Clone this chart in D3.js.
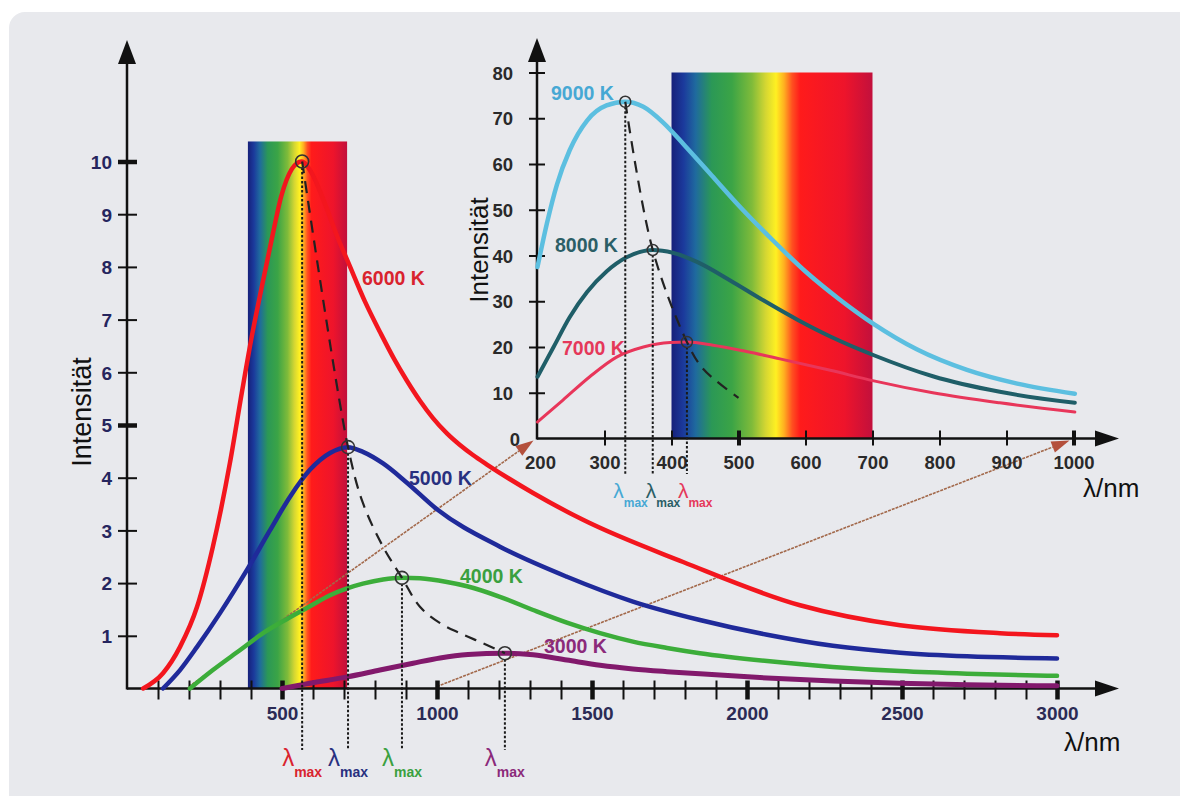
<!DOCTYPE html>
<html>
<head>
<meta charset="utf-8">
<script src="https://cdn.jsdelivr.net/npm/d3@7"></script>
<style>
  html, body { margin: 0; padding: 0; background: #fff; }
  svg { display: block; font-family: "Liberation Sans", Arial, sans-serif; }
</style>
</head>
<body>
<svg id="chart" width="1180" height="796"></svg>
<script>
// ---- main chart data: [wavelength nm, relative intensity] ----
const curve6000 = [[52,0],[116,0.29],[171,0.79],[226,1.55],[277,2.69],[332,4.28],[370,5.6],[400,6.6],[434,7.6],[466,8.5],[498,9.35],[531,9.85],[563,10],[595,9.79],[637,9.22],[682,8.52],[714,8.08],[767,7.35],[820,6.72],[862,6.25],[903,5.84],[945,5.46],[987,5.13],[1032,4.84],[1074,4.62],[1116,4.43],[1161,4.25],[1310,3.71],[1471,3.2],[1794,2.4],[2171,1.58],[2494,1.2],[2816,1.05],[3000,1.01]];
const curve5000 = [[116,0],[171,0.35],[226,0.79],[300,1.43],[387,2.25],[461,3.0],[526,3.64],[590,4.15],[655,4.47],[713,4.58],[761,4.49],[826,4.27],[900,3.92],[1000,3.4],[1203,2.69],[1419,2.12],[1632,1.65],[1848,1.3],[2065,1.02],[2277,0.81],[2494,0.68],[2710,0.61],[3000,0.57]];
const curve4000 = [[203,0],[277,0.35],[365,0.73],[439,1.05],[516,1.32],[590,1.56],[655,1.77],[710,1.9],[761,1.99],[826,2.07],[887,2.1],[945,2.09],[1032,2.02],[1097,1.94],[1203,1.74],[1310,1.49],[1419,1.25],[1526,1.05],[1632,0.89],[1742,0.77],[1848,0.67],[2065,0.52],[2277,0.41],[2494,0.33],[2710,0.28],[3000,0.24]];
const curve3000 = [[500,0],[590,0.1],[710,0.22],[816,0.35],[923,0.48],[1010,0.58],[1100,0.645],[1219,0.67],[1310,0.64],[1419,0.54],[1526,0.44],[1632,0.37],[1742,0.32],[1848,0.28],[2065,0.2],[2277,0.14],[2494,0.1],[2710,0.07],[3000,0.05]];
const mainPeakNm  = [565, 713, 887, 1219];
const mainPeakVal = [10, 4.58, 2.1, 0.67];
const wienMain = [[565,10],[713,4.58],[761,3.52],[826,2.69],[887,2.1],[945,1.55],[1010,1.24],[1074,1.05],[1148,0.86],[1219,0.67]];
const mainNames = ['6000 K', '5000 K', '4000 K', '3000 K'];
const mainTicksY = [1,2,3,4,5,6,7,8,9,10];
const mainTicksX = [100,200,300,400,500,600,700,800,900,1000,1100,1200,1300,1400,1500,1600,1700,1800,1900,2000,2100,2200,2300,2400,2500,2600,2700,2800,2900,3000];
const mainLabelsX = [500,1000,1500,2000,2500,3000];
const mainSpectrum = [390, 710];

// ---- inset data ----
const curve9000 = [[200,37.5],[214,47],[229,55.5],[248,63],[274,69.5],[303,72.8],[331,73.6],[358,72.5],[388,69],[420,64],[460,57.5],[500,51],[550,43.5],[600,36.5],[650,30.5],[702,25],[766,19.5],[841,15],[916,12],[1002,9.8]];
const curve8000 = [[200,13.5],[224,20],[248,26.5],[274,32],[303,36.5],[333,39.6],[372,41.2],[402,40.6],[438,38.6],[487,34.6],[537,30.2],[590,25.8],[637,22.3],[702,18.2],[790,13.6],[890,10.2],[1002,7.8]];
const curve7000 = [[200,3.6],[238,8.4],[278,13.5],[318,17.8],[358,20],[398,21],[423,21.1],[462,20.4],[512,19],[562,17.4],[637,14.9],[702,12.6],[790,10],[890,7.8],[1002,5.8]];
const insetPeakNm  = [331, 372, 423];
const insetPeakVal = [73.6, 41.2, 21.1];
const wienInset = [[331,73.6],[372,41.2],[423,21.1],[445,15.6],[470,12.2],[500,8.9]];
const insetNames = ['9000 K', '8000 K', '7000 K'];
const insetTicksY = [10,20,30,40,50,60,70,80];
const insetTicksX = [300,400,500,600,700,800,900,1000];
const insetSpectrum = [400, 700];
const arrowLinks = [200, 1000];

// ---- styles ----
const mainColors  = ['#f3161e', '#1f2a9a', '#3cad3a', '#82196c'];
const mainWidths  = [4.5, 4.5, 4.5, 5];
const mainLabelColors = ['#d9232e', '#28307f', '#3aa040', '#8b2a7a'];
const insetColors = ['#5cbfe0', '#1f5e68', '#e8365a'];
const insetWidths = [4.5, 4, 3];
const insetLabelColors = ['#46a8d4', '#2b5e66', '#e5385a'];
const insetLambdaShift = [-12, -7, -9];
const mainLabelPos  = [[362,285],[409,485],[460,583],[544,653]];
const insetLabelPos = [[551,100],[555,252],[562,355]];
const FONT = '"Liberation Sans", Arial, sans-serif';

const svg = d3.select('#chart');

// background panel
svg.append('rect').attr('x', 9).attr('y', 12).attr('width', 1200).attr('height', 820)
  .attr('rx', 16).attr('fill', '#e8e9ed');

const mx = d3.scaleLinear().domain([0, 3000]).range([127, 1057]);
const my = d3.scaleLinear().domain([0, 10]).range([688.5, 161.5]);
const ix = d3.scaleLinear().domain([200, 1000]).range([537.5, 1073.5]);
const iy = d3.scaleLinear().domain([0, 80]).range([438.5, 72.5]);

// spectrum gradient
const defs = svg.append('defs');
const grad = defs.append('linearGradient').attr('id', 'spec');
[[0,'#16207a'],[0.06,'#1b3a9c'],[0.12,'#1f6a9e'],[0.2,'#2b9856'],[0.3,'#3ba446'],
 [0.4,'#7fbb3a'],[0.47,'#d6d732'],[0.52,'#fff022'],[0.56,'#ffb020'],[0.6,'#ff5020'],
 [0.64,'#ff1b1b'],[0.86,'#ee142b'],[1,'#c2103c']].forEach(s => {
  grad.append('stop').attr('offset', s[0]).attr('stop-color', s[1]);
});

svg.append('rect')
  .attr('x', mx(mainSpectrum[0])).attr('y', my(10.38))
  .attr('width', mx(mainSpectrum[1]) - mx(mainSpectrum[0]))
  .attr('height', my(0) - my(10.38))
  .attr('fill', 'url(#spec)');
svg.append('rect')
  .attr('x', ix(insetSpectrum[0])).attr('y', iy(80))
  .attr('width', ix(insetSpectrum[1]) - ix(insetSpectrum[0]))
  .attr('height', iy(0) - iy(80))
  .attr('fill', 'url(#spec)');

// brown connector arrows (main wavelength -> same wavelength in inset)
arrowLinks.forEach(nm => {
  const x1 = mx(nm), y1 = my(0) - 2;
  const x2 = ix(nm) - 4, y2 = iy(0) + 2;
  const a = Math.atan2(y2 - y1, x2 - x1);
  const len = 18, half = 6;
  const bx = x2 - len * Math.cos(a), by = y2 - len * Math.sin(a);
  svg.append('line')
    .attr('x1', x1).attr('y1', y1).attr('x2', bx).attr('y2', by)
    .attr('stroke', '#a2684a').attr('stroke-width', 1.6)
    .attr('stroke-dasharray', '3,1');
  svg.append('path')
    .attr('d', `M${x2},${y2}L${bx - half * Math.sin(a)},${by + half * Math.cos(a)}L${bx + half * Math.sin(a)},${by - half * Math.cos(a)}Z`)
    .attr('fill', '#b4503c');
});

// ---- axes ----
function arrowHead(x, y, dir, len, half) {
  if (dir === 'up') return `M${x},${y}L${x - half},${y + len}L${x + half},${y + len}Z`;
  return `M${x},${y}L${x - len},${y - half}L${x - len},${y + half}Z`;
}

svg.append('line').attr('x1', 127).attr('y1', my(0)).attr('x2', 1100).attr('y2', my(0))
  .attr('stroke', '#111').attr('stroke-width', 2.5);
svg.append('path').attr('d', arrowHead(1119, my(0), 'right', 24, 8)).attr('fill', '#111');
svg.append('line').attr('x1', 127).attr('y1', my(0) + 1).attr('x2', 127).attr('y2', 60)
  .attr('stroke', '#111').attr('stroke-width', 2.5);
svg.append('path').attr('d', arrowHead(127, 40, 'up', 24, 9)).attr('fill', '#111');

const gmx = svg.append('g').attr('transform', `translate(0,${my(0)})`)
  .call(d3.axisBottom(mx).tickValues(mainTicksX)
    .tickFormat(d => mainLabelsX.includes(d) ? d : ''));
gmx.select('.domain').remove();
gmx.selectAll('.tick line').attr('y1', -8).attr('y2', 11)
  .attr('stroke', '#111').attr('stroke-width', d => mainLabelsX.includes(d) ? 4.5 : 2);
gmx.selectAll('.tick text').attr('y', 31).attr('dy', null)
  .attr('fill', '#2b2b55').attr('font-size', 19).attr('font-weight', 'bold')
  .attr('font-family', FONT);

const gmy = svg.append('g').attr('transform', 'translate(127,0)')
  .call(d3.axisLeft(my).tickValues(mainTicksY));
gmy.select('.domain').remove();
gmy.selectAll('.tick line').attr('x1', -9).attr('x2', 10)
  .attr('stroke', '#111').attr('stroke-width', d => d % 5 === 0 ? 4.5 : 2);
gmy.selectAll('.tick text').attr('x', -15).attr('dy', '0.36em')
  .attr('fill', '#25255e').attr('font-size', 19).attr('font-weight', 'bold')
  .attr('font-family', FONT);

svg.append('line').attr('x1', 537).attr('y1', iy(0)).attr('x2', 1100).attr('y2', iy(0))
  .attr('stroke', '#111').attr('stroke-width', 2.5);
svg.append('path').attr('d', arrowHead(1119, iy(0), 'right', 24, 8)).attr('fill', '#111');
svg.append('line').attr('x1', 537).attr('y1', iy(0) + 1).attr('x2', 537).attr('y2', 58)
  .attr('stroke', '#111').attr('stroke-width', 2.5);
svg.append('path').attr('d', arrowHead(537, 38, 'up', 24, 9)).attr('fill', '#111');

const gix = svg.append('g').attr('transform', `translate(0,${iy(0)})`)
  .call(d3.axisBottom(ix).tickValues(insetTicksX).tickFormat(d3.format('d')));
gix.select('.domain').remove();
gix.selectAll('.tick line').attr('y1', -8).attr('y2', 7)
  .attr('stroke', '#111').attr('stroke-width', d => d % 500 === 0 ? 4 : 2);
gix.selectAll('.tick text').attr('y', 30).attr('dy', null)
  .attr('fill', '#2a2a2a').attr('font-size', 18.5).attr('font-weight', 'bold')
  .attr('font-family', FONT);
svg.append('text').attr('x', ix(200) + 3).attr('y', iy(0) + 30)
  .attr('text-anchor', 'middle').attr('font-size', 18.5).attr('font-weight', 'bold')
  .attr('fill', '#2a2a2a').text('200');

const giy = svg.append('g').attr('transform', 'translate(537,0)')
  .call(d3.axisLeft(iy).tickValues(insetTicksY));
giy.select('.domain').remove();
giy.selectAll('.tick line').attr('x1', -8).attr('x2', 8)
  .attr('stroke', '#111').attr('stroke-width', 2);
giy.selectAll('.tick text').attr('x', -24).attr('dy', '0.36em')
  .attr('fill', '#2a2a2a').attr('font-size', 18.5).attr('font-weight', 'bold')
  .attr('font-family', FONT);
svg.append('text').attr('x', 520).attr('y', iy(0) + 7)
  .attr('text-anchor', 'end').attr('font-size', 18.5).attr('font-weight', 'bold')
  .attr('fill', '#2a2a2a').text('0');

// axis titles
svg.append('text').attr('transform', 'translate(91,412) rotate(-90)')
  .attr('text-anchor', 'middle').attr('font-size', 27).attr('fill', '#111').text('Intensität');
svg.append('text').attr('transform', 'translate(488,250) rotate(-90)')
  .attr('text-anchor', 'middle').attr('font-size', 26).attr('fill', '#111').text('Intensität');
svg.append('text').attr('x', 1064).attr('y', 751).attr('font-size', 26).attr('fill', '#111').text('λ/nm');
svg.append('text').attr('x', 1083).attr('y', 497).attr('font-size', 26).attr('fill', '#111').text('λ/nm');

// ---- curves ----
const mainLine = d3.line().x(d => mx(d[0])).y(d => my(d[1])).curve(d3.curveMonotoneX);
const insetLine = d3.line().x(d => ix(d[0])).y(d => iy(d[1])).curve(d3.curveMonotoneX);

[curve6000, curve5000, curve4000, curve3000].forEach((c, i) => {
  svg.append('path').attr('d', mainLine(c)).attr('fill', 'none')
    .attr('stroke', mainColors[i]).attr('stroke-width', mainWidths[i])
    .attr('stroke-linecap', 'round');
});
[curve9000, curve8000, curve7000].forEach((c, i) => {
  svg.append('path').attr('d', insetLine(c)).attr('fill', 'none')
    .attr('stroke', insetColors[i]).attr('stroke-width', insetWidths[i])
    .attr('stroke-linecap', 'round');
});

// Wien displacement dashed lines
svg.append('path')
  .attr('d', d3.line().x(d => mx(d[0])).y(d => my(d[1])).curve(d3.curveCatmullRom)(wienMain))
  .attr('fill', 'none').attr('stroke', '#222').attr('stroke-width', 2.2)
  .attr('stroke-dasharray', '12,8');
svg.append('path')
  .attr('d', d3.line().x(d => ix(d[0])).y(d => iy(d[1])).curve(d3.curveCatmullRom)(wienInset))
  .attr('fill', 'none').attr('stroke', '#222').attr('stroke-width', 2.2)
  .attr('stroke-dasharray', '12,8');

// dotted λmax drop lines + circles + labels
function lambdaLabel(x, y, color, big, small, anchor) {
  const t = svg.append('text').attr('x', x).attr('y', y).attr('fill', color)
    .attr('text-anchor', anchor);
  t.append('tspan').attr('font-size', big).text('λ');
  t.append('tspan').attr('font-size', small).attr('font-weight', 'bold')
    .attr('dy', small * 0.75).text('max');
}

mainPeakNm.forEach((nm, i) => {
  const px = mx(nm), py = my(mainPeakVal[i]);
  svg.append('line').attr('x1', px).attr('y1', py + 6).attr('x2', px).attr('y2', 750)
    .attr('stroke', '#1a1a1a').attr('stroke-width', 2).attr('stroke-dasharray', '2.5,2');
  svg.append('circle').attr('cx', px).attr('cy', py).attr('r', 6.5)
    .attr('fill', 'none').attr('stroke', '#333').attr('stroke-width', 1.6);
  lambdaLabel(px, 766, mainLabelColors[i], 24, 14, 'middle');
});

insetPeakNm.forEach((nm, i) => {
  const px = ix(nm), py = iy(insetPeakVal[i]);
  svg.append('line').attr('x1', px).attr('y1', py + 5).attr('x2', px).attr('y2', 474)
    .attr('stroke', '#1a1a1a').attr('stroke-width', 2).attr('stroke-dasharray', '2.5,2');
  svg.append('circle').attr('cx', px).attr('cy', py).attr('r', 5.5)
    .attr('fill', 'none').attr('stroke', '#333').attr('stroke-width', 1.5);
});
insetPeakNm.forEach((nm, i) => {
  lambdaLabel(ix(nm) + insetLambdaShift[i], 498, insetLabelColors[i], 21, 12, 'start');
});

// curve labels
mainNames.forEach((n, i) => {
  svg.append('text').attr('x', mainLabelPos[i][0]).attr('y', mainLabelPos[i][1])
    .attr('font-size', 19.5).attr('font-weight', 'bold')
    .attr('fill', mainLabelColors[i]).text(n);
});
insetNames.forEach((n, i) => {
  svg.append('text').attr('x', insetLabelPos[i][0]).attr('y', insetLabelPos[i][1])
    .attr('font-size', 19.5).attr('font-weight', 'bold')
    .attr('fill', insetLabelColors[i]).text(n);
});
</script>
</body>
</html>
